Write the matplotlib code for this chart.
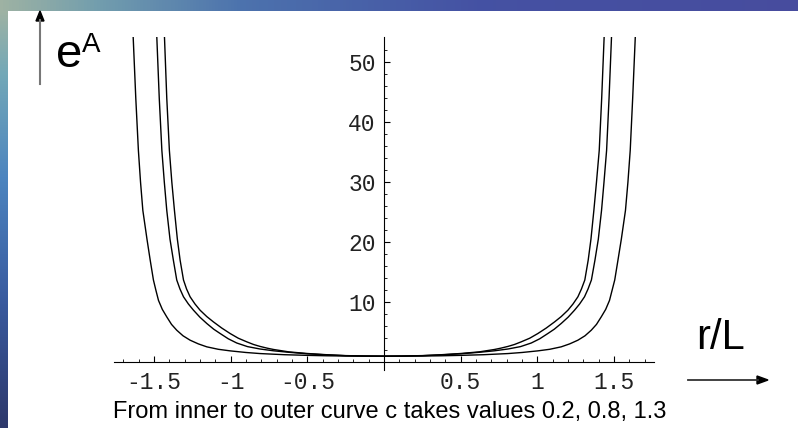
import numpy as np
import matplotlib
matplotlib.use("Agg")
import matplotlib.pyplot as plt
from matplotlib.lines import Line2D
from matplotlib.patches import Polygon
from matplotlib.transforms import IdentityTransform
from matplotlib.colors import LinearSegmentedColormap

# ---- data (r/L , e^A) ----
# inner curve, c = 0.2
inner_r = [-1.431, -1.416, -1.399, -1.383, -1.366, -1.347, -1.329, -1.307, -1.287, -1.264, -1.232,
           -1.199, -1.155, -1.112, -1.058, -1.003, -0.950, -0.894, -0.850, -0.808, -0.760, -0.720,
           -0.620, -0.500, -0.375, -0.250, -0.120, 0.000,
           0.120, 0.250, 0.375, 0.500, 0.620, 0.720, 0.760, 0.808, 0.850, 0.894, 0.950, 1.003,
           1.058, 1.112, 1.155, 1.199, 1.232, 1.264, 1.287, 1.309, 1.331, 1.349, 1.368, 1.385,
           1.403, 1.419, 1.435]
inner_v = [54.2, 44.0, 35.3, 30.0, 25.3, 20.5, 17.0, 13.7, 12.2, 10.9, 9.7,
           8.67, 7.6, 6.72, 5.7, 4.78, 4.0, 3.39, 2.95, 2.63, 2.33, 2.12,
           1.72, 1.45, 1.25, 1.10, 1.03, 1.00,
           1.03, 1.10, 1.25, 1.45, 1.72, 2.12, 2.33, 2.63, 2.95, 3.39, 4.0, 4.78,
           5.7, 6.72, 7.6, 8.67, 9.7, 10.9, 12.2, 13.7, 17.0, 20.5, 25.3, 30.0,
           35.3, 44.0, 54.2]
# middle curve, c = 0.8
middle_r = [-1.481, -1.465, -1.448, -1.432, -1.416, -1.395, -1.373, -1.351, -1.330, -1.307, -1.275,
            -1.242, -1.200, -1.155, -1.110, -1.068, -1.015, -0.960, -0.890, -0.808, -0.720, -0.620,
            -0.500, -0.375, -0.250, -0.120, 0.000,
            0.120, 0.250, 0.375, 0.500, 0.620, 0.720, 0.808, 0.890, 0.960, 1.015, 1.068,
            1.110, 1.155, 1.200, 1.242, 1.275, 1.307, 1.330, 1.352, 1.375, 1.397, 1.418,
            1.434, 1.451, 1.467, 1.483]
middle_v = [54.2, 44.0, 35.3, 30.0, 25.3, 20.5, 17.0, 13.7, 12.2, 10.9, 9.7,
            8.67, 7.5, 6.45, 5.5, 4.78, 3.9, 3.2, 2.6, 2.2, 1.9, 1.65,
            1.40, 1.22, 1.08, 1.02, 1.00,
            1.02, 1.08, 1.22, 1.40, 1.65, 1.9, 2.2, 2.6, 3.2, 3.9, 4.78,
            5.5, 6.45, 7.5, 8.67, 9.7, 10.9, 12.2, 13.7, 17.0, 20.5, 25.3,
            30.0, 35.3, 44.0, 54.2]
# outer curve, c = 1.3
outer_r = [-1.635, -1.618, -1.601, -1.587, -1.572, -1.545, -1.524, -1.503, -1.487, -1.470, -1.445,
           -1.416, -1.385, -1.351, -1.310, -1.264, -1.210, -1.155, -1.080, -1.003, -0.900, -0.808,
           -0.650, -0.500, -0.375, -0.250, -0.120, 0.000,
           0.120, 0.250, 0.375, 0.500, 0.650, 0.808, 0.900, 1.003, 1.080, 1.155, 1.210,
           1.264, 1.310, 1.351, 1.385, 1.416, 1.445, 1.470, 1.487, 1.504, 1.525, 1.547,
           1.574, 1.590, 1.605, 1.621, 1.638]
outer_v = [54.2, 44.0, 35.3, 30.0, 25.3, 20.5, 17.0, 13.7, 12.0, 10.3, 8.8,
           7.55, 6.3, 5.33, 4.4, 3.67, 3.05, 2.56, 2.15, 1.89, 1.62, 1.44,
           1.25, 1.14, 1.07, 1.03, 1.01, 1.00,
           1.01, 1.03, 1.07, 1.14, 1.25, 1.44, 1.62, 1.89, 2.15, 2.56, 3.05,
           3.67, 4.4, 5.33, 6.3, 7.55, 8.8, 10.3, 12.0, 13.7, 17.0, 20.5,
           25.3, 30.0, 35.3, 44.0, 54.2]

xtick_vals = [-1.5, -1.0, -0.5, 0.5, 1.0, 1.5]
xtick_labels = ["-1.5", "-1", "-0.5", "0.5", "1", "1.5"]
ytick_vals = [10, 20, 30, 40, 50]
ytick_labels = ["10", "20", "30", "40", "50"]
caption = "From inner to outer curve c takes values 0.2, 0.8, 1.3"

W, H = 798, 428
fig = plt.figure(figsize=(W / 100, H / 100), dpi=100)
fig.patch.set_facecolor("white")

def px(x, y):
    return x / W, 1 - y / H

# ---- slide background strips ----
top_cmap = LinearSegmentedColormap.from_list(
    "top", [(0.0, (0.62, 0.70, 0.64)), (0.12, (0.45, 0.62, 0.68)), (0.3, (0.30, 0.45, 0.68)),
            (0.6, (0.27, 0.32, 0.64)), (1.0, (0.28, 0.30, 0.62))])
ax_top = fig.add_axes([0, 1 - 11 / H, 1, 11 / H])
ax_top.imshow(np.linspace(0, 1, 256)[None, :], aspect="auto", cmap=top_cmap)
ax_top.axis("off")
left_cmap = LinearSegmentedColormap.from_list(
    "left", [(0.0, (0.62, 0.70, 0.64)), (0.15, (0.45, 0.66, 0.72)), (0.4, (0.30, 0.52, 0.75)),
             (0.7, (0.22, 0.35, 0.62)), (1.0, (0.18, 0.22, 0.42))])
ax_left = fig.add_axes([0, 0, 8 / W, 1 - 11 / H])
ax_left.imshow(np.linspace(0, 1, 256)[:, None], aspect="auto", cmap=left_cmap)
ax_left.axis("off")

# ---- main axes ----
x0, x1 = 114, 654
y_top, y_bot = 37, 370
ax = fig.add_axes([x0 / W, 1 - y_bot / H, (x1 - x0) / W, (y_bot - y_top) / H])
ax.set_facecolor("none")
for r, v in [(inner_r, inner_v), (middle_r, middle_v), (outer_r, outer_v)]:
    ax.plot(r, v, color="black", lw=1.0, solid_joinstyle="round")

ax.set_xlim(-1.76, 1.76)
ax.set_ylim(-1.3, 54.2)
ax.spines["left"].set_position(("data", 0))
ax.spines["bottom"].set_position(("data", 0))
ax.spines["right"].set_visible(False)
ax.spines["top"].set_visible(False)
for s in ("left", "bottom"):
    ax.spines[s].set_linewidth(0.8)

ax.set_xticks(xtick_vals)
ax.set_xticklabels(xtick_labels)
ax.set_xticks(np.round(np.arange(-1.7, 1.71, 0.1), 2), minor=True)
ax.set_yticks(ytick_vals)
ax.set_yticklabels(ytick_labels)
ax.set_yticks(np.arange(2, 54, 2), minor=True)
ax.tick_params(which="major", direction="in", length=4.5, width=0.8, pad=6, labelsize=16.5)
ax.tick_params(which="minor", direction="in", length=2.5, width=0.6)
for lab in ax.get_xticklabels() + ax.get_yticklabels():
    lab.set_family("Liberation Mono")
    lab.set_color("#222222")

# ---- texts ----
fx, fy = px(56, 67)
fig.text(fx, fy, "e", fontsize=34, family="Liberation Sans", va="baseline", ha="left")
fx, fy = px(82, 52)
fig.text(fx, fy, "A", fontsize=20, family="Liberation Sans", va="baseline", ha="left")
fx, fy = px(696, 349)
fig.text(fx, fy, "r/L", fontsize=30, family="Liberation Sans", va="baseline", ha="left")
fx, fy = px(113, 412)
fig.text(fx, fy, caption, fontsize=17, family="Liberation Sans", va="center", ha="left")

# ---- arrows (figure pixels) ----
tr = IdentityTransform()
fig.add_artist(Line2D([40, 40], [H - 84, H - 20], color="#777777", lw=1.5, transform=tr))
fig.add_artist(Polygon([[40, H - 11], [36, H - 21], [44, H - 21]], closed=True,
                       color="black", transform=tr))
fig.add_artist(Line2D([688, 758], [H - 380, H - 380], color="#333333", lw=1.3, transform=tr))
fig.add_artist(Polygon([[768, H - 380], [757, H - 376], [757, H - 384]], closed=True,
                       color="black", transform=tr))

fig.savefig("out.png", dpi=100)
